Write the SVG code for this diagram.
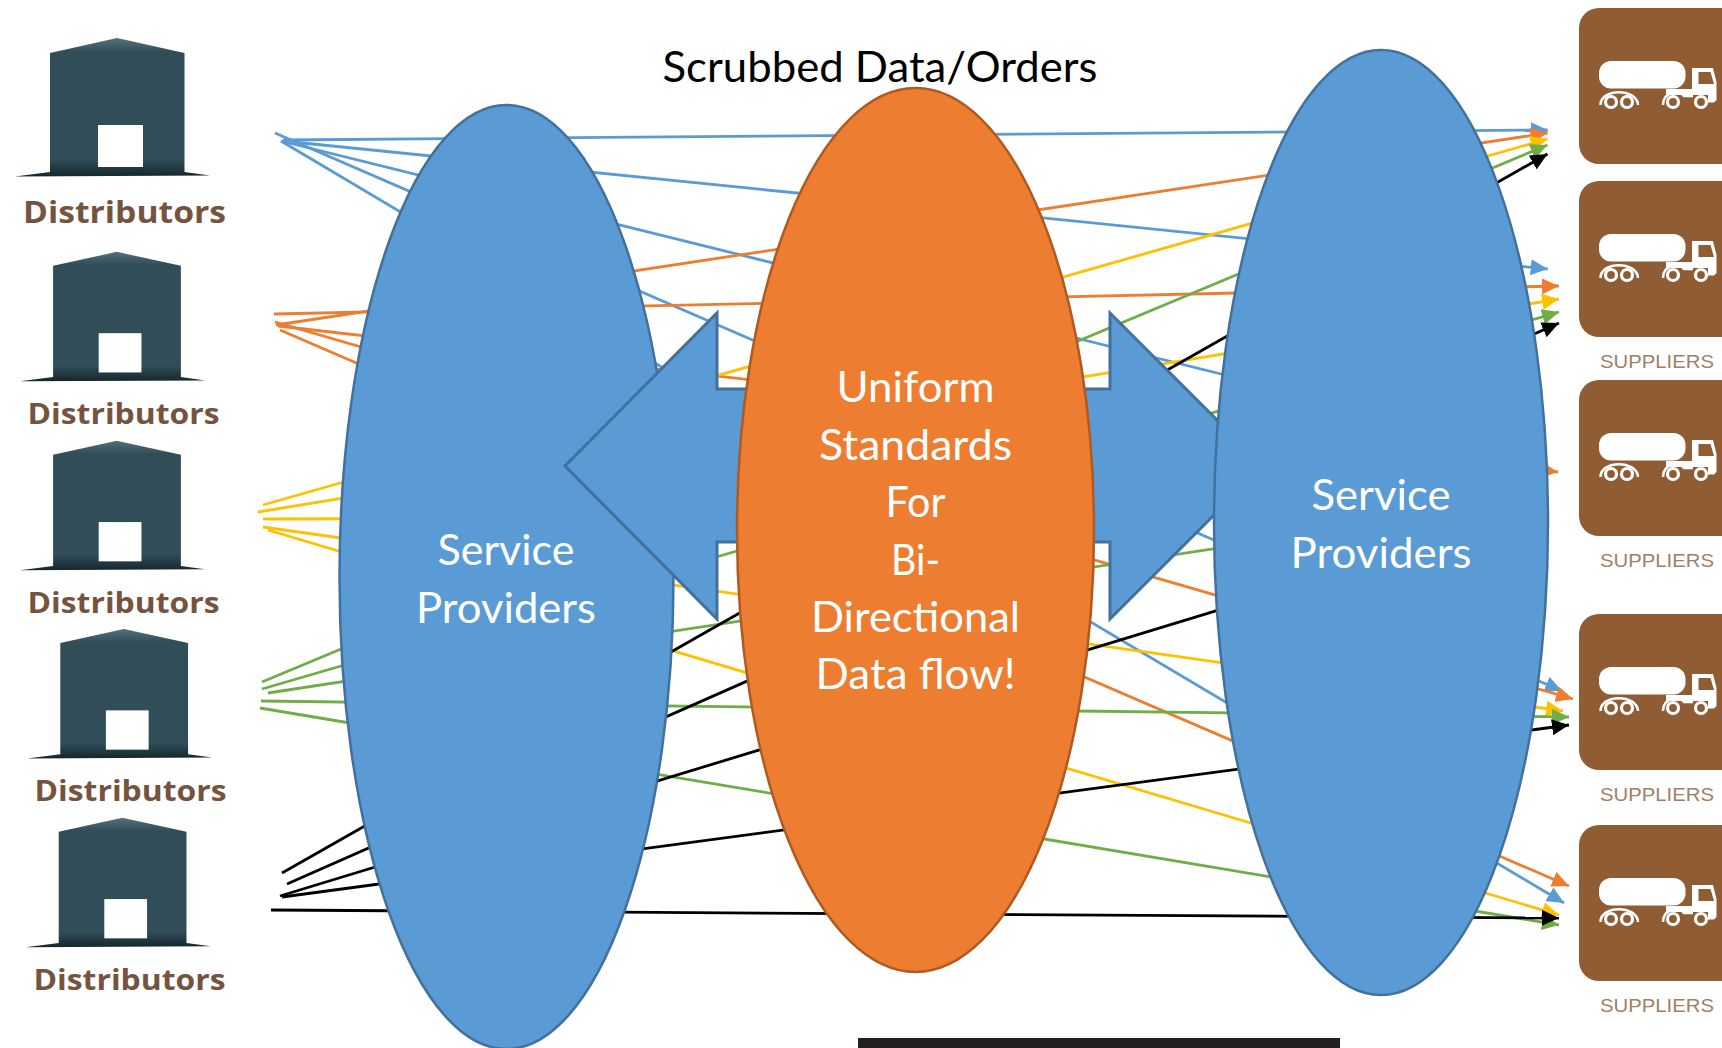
<svg xmlns="http://www.w3.org/2000/svg" xmlns:xlink="http://www.w3.org/1999/xlink" width="1722" height="1048" viewBox="0 0 1722 1048">
<style>
.c{fill:none;stroke-width:2.8}
.b{stroke:#5B9BD5}.o{stroke:#ED7D31}.y{stroke:#FFC000}.g{stroke:#70AD47}.k{stroke:#000}
.sp{fill:#5B9BD5;stroke:#41719C;stroke-width:2.5}
.ar{fill:#5B9BD5;stroke:#41719C;stroke-width:3}
.or{fill:#ED7D31;stroke:#AE5A21;stroke-width:2.5}
.w{font-family:Lato,"Liberation Sans",sans-serif;fill:#fff;text-anchor:middle;font-size:42px}
.d{font-family:"Open Sans","Liberation Sans",sans-serif;font-weight:700;fill:#75543F}
.s{font-family:"Liberation Sans",Arial,sans-serif;font-size:18.5px;fill:#A07F67}
</style>
<defs>
<marker id="mb" markerUnits="userSpaceOnUse" markerWidth="17" markerHeight="16" refX="17" refY="8" orient="auto"><path d="M0 0L17 8L0 16Z" fill="#5B9BD5"/></marker>
<marker id="mo" markerUnits="userSpaceOnUse" markerWidth="17" markerHeight="16" refX="17" refY="8" orient="auto"><path d="M0 0L17 8L0 16Z" fill="#ED7D31"/></marker>
<marker id="my" markerUnits="userSpaceOnUse" markerWidth="17" markerHeight="16" refX="17" refY="8" orient="auto"><path d="M0 0L17 8L0 16Z" fill="#FFC000"/></marker>
<marker id="mg" markerUnits="userSpaceOnUse" markerWidth="17" markerHeight="16" refX="17" refY="8" orient="auto"><path d="M0 0L17 8L0 16Z" fill="#70AD47"/></marker>
<marker id="mk" markerUnits="userSpaceOnUse" markerWidth="17" markerHeight="16" refX="17" refY="8" orient="auto"><path d="M0 0L17 8L0 16Z" fill="#000"/></marker>
<linearGradient id="wg" x1="0" y1="0" x2="0" y2="1">
<stop offset="0" stop-color="#55717C"/><stop offset=".1" stop-color="#304D58"/><stop offset=".88" stop-color="#304D58"/><stop offset="1" stop-color="#16262C"/>
</linearGradient>
<g id="house">
<path d="M15 176.500L50 172L50 53L117 38L184.500 53L184.500 172L210 175.500Z" fill="url(#wg)"/>
<rect x="98" y="125" width="45" height="42" fill="#fff"/>
</g>
<g id="truck">
<rect x="1579" y="0" width="200" height="156" rx="20" fill="#8F5C34"/>
<rect x="1599" y="53" width="86.500" height="27.500" rx="12" fill="#fff"/>
<path d="M1692 60H1713L1716.500 74V92L1714 94.500H1708V87H1666V81H1692Z" fill="#fff"/>
<path d="M1698.500 64H1710.500L1714 76H1698.500Z" fill="#8F5C34"/>
<g fill="none" stroke="#fff" stroke-width="2.500">
<path d="M1600.500 97C1600.500 80 1637 80 1638 97"/>
<path d="M1663 97C1663 83 1680 82 1684 88H1693"/>
</g>
<g fill="#8F5C34" stroke="#fff" stroke-width="3.200">
<circle cx="1611" cy="94" r="5.500"/><circle cx="1627" cy="94" r="5.500"/><circle cx="1673" cy="94" r="5.500"/><circle cx="1701" cy="94" r="5.500"/>
</g>
</g>
</defs>
<rect width="1722" height="1048" fill="#fff"/>
<g id="connectors">
<line class="c b" x1="283" y1="140" x2="1547.700" y2="130" marker-end="url(#mb)"/>
<line class="c b" x1="283" y1="141" x2="1547.700" y2="269" marker-end="url(#mb)"/>
<line class="c b" x1="281" y1="141" x2="1540" y2="453"/>
<line class="c b" x1="275" y1="133" x2="1562" y2="691" marker-end="url(#mb)"/>
<line class="c b" x1="281" y1="141" x2="1564" y2="903" marker-end="url(#mb)"/>
<line class="c o" x1="276" y1="325" x2="1547.500" y2="133" marker-end="url(#mo)"/>
<line class="c o" x1="274" y1="314" x2="1559" y2="286" marker-end="url(#mo)"/>
<line class="c o" x1="278" y1="326" x2="1558" y2="472" marker-end="url(#mo)"/>
<line class="c o" x1="275" y1="322" x2="1573" y2="699" marker-end="url(#mo)"/>
<line class="c o" x1="280" y1="330" x2="1569" y2="886" marker-end="url(#mo)"/>
<line class="c y" x1="263" y1="505" x2="1547.500" y2="139" marker-end="url(#my)"/>
<line class="c y" x1="258" y1="512" x2="1559" y2="299" marker-end="url(#my)"/>
<line class="c y" x1="263" y1="519" x2="1540" y2="515"/>
<line class="c y" x1="263" y1="527" x2="1563" y2="711" marker-end="url(#my)"/>
<line class="c y" x1="268" y1="530" x2="1559" y2="915" marker-end="url(#my)"/>
<line class="c g" x1="262" y1="682" x2="1547.500" y2="145" marker-end="url(#mg)"/>
<line class="c g" x1="262" y1="689" x2="1559" y2="312" marker-end="url(#mg)"/>
<line class="c g" x1="268" y1="693" x2="1540" y2="499"/>
<line class="c g" x1="261" y1="701" x2="1569" y2="717" marker-end="url(#mg)"/>
<line class="c g" x1="260" y1="708" x2="1559" y2="925" marker-end="url(#mg)"/>
<line class="c k" x1="282" y1="873" x2="1547.500" y2="154" marker-end="url(#mk)"/>
<line class="c k" x1="287" y1="884" x2="1559" y2="323" marker-end="url(#mk)"/>
<line class="c k" x1="280" y1="896" x2="1540" y2="512"/>
<line class="c k" x1="282" y1="897" x2="1569" y2="725" marker-end="url(#mk)"/>
<line class="c k" x1="271" y1="910" x2="1559" y2="918" marker-end="url(#mk)"/>
</g>
<g id="service-providers-left">
<ellipse class="sp" cx="506.500" cy="577" rx="167" ry="472"/>
<text class="w" x="506" y="564.500" textLength="137" lengthAdjust="spacingAndGlyphs">Service</text>
<text class="w" x="506" y="622.500" textLength="180" lengthAdjust="spacingAndGlyphs">Providers</text>
</g>
<g id="arrow-left"><path class="ar" d="M800 389H717V313L565 466L717 619V542H800Z"/></g>
<g id="arrow-right"><path class="ar" d="M1040 389H1110V313L1263 466L1110 619V542H1040Z"/></g>
<g id="service-providers-right">
<ellipse class="sp" cx="1381" cy="522.500" rx="167" ry="472.500"/>
<text class="w" x="1381" y="509.500" textLength="139" lengthAdjust="spacingAndGlyphs">Service</text>
<text class="w" x="1381" y="568" textLength="181" lengthAdjust="spacingAndGlyphs">Providers</text>
</g>
<g id="uniform-standards">
<ellipse class="or" cx="915.500" cy="530" rx="178.500" ry="442"/>
<text class="w" x="915.500" y="402" textLength="158" lengthAdjust="spacingAndGlyphs">Uniform</text>
<text class="w" x="915.500" y="460" textLength="193" lengthAdjust="spacingAndGlyphs">Standards</text>
<text class="w" x="915.500" y="517" textLength="60" lengthAdjust="spacingAndGlyphs">For</text>
<text class="w" x="915.500" y="575" textLength="49" lengthAdjust="spacingAndGlyphs">Bi-</text>
<text class="w" x="915.500" y="632" textLength="209" lengthAdjust="spacingAndGlyphs">Directional</text>
<text class="w" x="915.500" y="689" textLength="200" lengthAdjust="spacingAndGlyphs">Data flow!</text>
</g>
<g id="title"><text x="880" y="82" font-family="Lato,'Liberation Sans',sans-serif" font-size="42" text-anchor="middle" fill="#000" textLength="435" lengthAdjust="spacingAndGlyphs">Scrubbed Data/Orders</text></g>
<g id="distributor-1"><use xlink:href="#house" href="#house"/><text class="d" x="23" y="222.500" font-size="30" textLength="203" lengthAdjust="spacingAndGlyphs">Distributors</text></g>
<g id="distributor-2"><use xlink:href="#house" href="#house" transform="translate(5.600 216.300) scale(.95 .935)"/><text class="d" x="27.500" y="424" font-size="28" textLength="192" lengthAdjust="spacingAndGlyphs">Distributors</text></g>
<g id="distributor-3"><use xlink:href="#house" href="#house" transform="translate(5.600 405.200) scale(.95 .935)"/><text class="d" x="27.500" y="613" font-size="28" textLength="192" lengthAdjust="spacingAndGlyphs">Distributors</text></g>
<g id="distributor-4"><use xlink:href="#house" href="#house" transform="translate(12.800 593.500) scale(.95 .935)"/><text class="d" x="34.500" y="801" font-size="28" textLength="192" lengthAdjust="spacingAndGlyphs">Distributors</text></g>
<g id="distributor-5"><use xlink:href="#house" href="#house" transform="translate(11.200 782.200) scale(.95 .935)"/><text class="d" x="33.500" y="990" font-size="28" textLength="192" lengthAdjust="spacingAndGlyphs">Distributors</text></g>
<g id="supplier-1"><use xlink:href="#truck" href="#truck" transform="translate(0 8)"/></g>
<g id="supplier-2"><use xlink:href="#truck" href="#truck" transform="translate(0 181)"/><text class="s" x="1600" y="368" textLength="114" lengthAdjust="spacingAndGlyphs">SUPPLIERS</text></g>
<g id="supplier-3"><use xlink:href="#truck" href="#truck" transform="translate(0 380)"/><text class="s" x="1600" y="567" textLength="114" lengthAdjust="spacingAndGlyphs">SUPPLIERS</text></g>
<g id="supplier-4"><use xlink:href="#truck" href="#truck" transform="translate(0 614)"/><text class="s" x="1600" y="801" textLength="114" lengthAdjust="spacingAndGlyphs">SUPPLIERS</text></g>
<g id="supplier-5"><use xlink:href="#truck" href="#truck" transform="translate(0 825)"/><text class="s" x="1600" y="1012" textLength="114" lengthAdjust="spacingAndGlyphs">SUPPLIERS</text></g>
<rect id="bottom-bar" x="858" y="1038" width="482" height="10" fill="#231F20"/>
</svg>
